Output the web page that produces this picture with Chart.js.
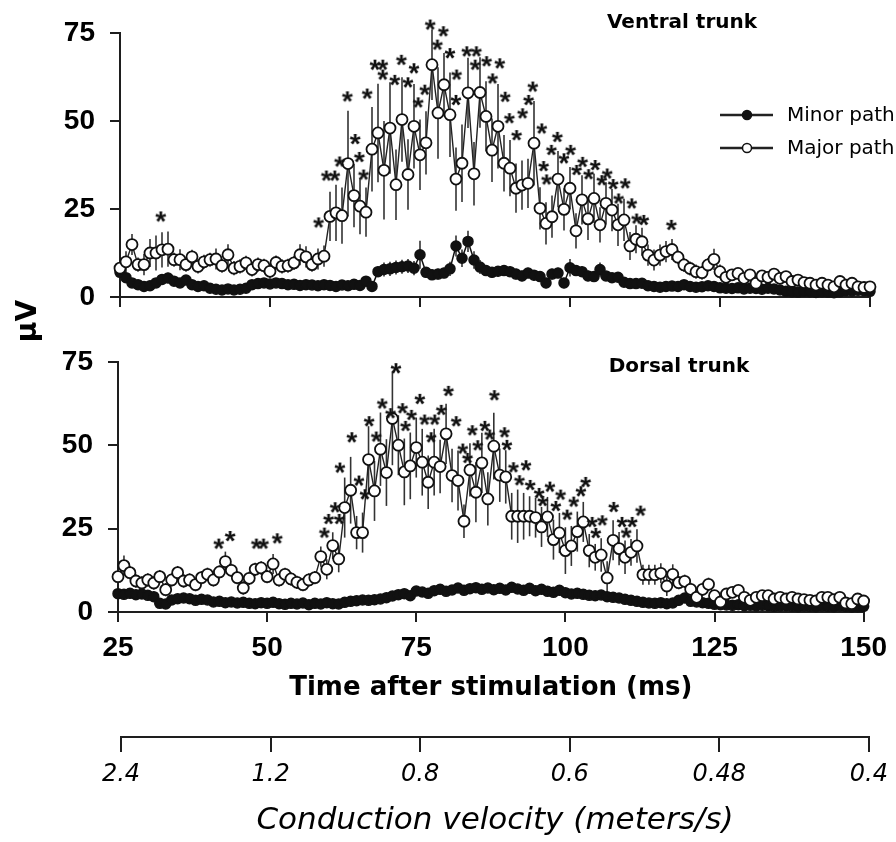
<!DOCTYPE html>
<html>
<head>
<meta charset="utf-8">
<script src="https://cdn.jsdelivr.net/npm/chart.js@4.4.1/dist/chart.umd.min.js"></script>
<style>
  html, body { margin: 0; padding: 0; background: #fff; }
  body { width: 896px; height: 842px; position: relative; overflow: hidden; }
  canvas { position: absolute; left: 0; }
  #chart-ventral { top: 0; }
  #chart-dorsal { top: 330px; }
  #chart-velocity { top: 700px; }
</style>
</head>
<body>
<canvas id="chart-ventral" width="896" height="350"></canvas>
<canvas id="chart-dorsal" width="896" height="390"></canvas>
<canvas id="chart-velocity" width="896" height="142"></canvas>
<script>
// Time after stimulation, one point per ms
const timeMs = [
  25, 26, 27, 28, 29, 30, 31, 32, 33, 34,
  35, 36, 37, 38, 39, 40, 41, 42, 43, 44,
  45, 46, 47, 48, 49, 50, 51, 52, 53, 54,
  55, 56, 57, 58, 59, 60, 61, 62, 63, 64,
  65, 66, 67, 68, 69, 70, 71, 72, 73, 74,
  75, 76, 77, 78, 79, 80, 81, 82, 83, 84,
  85, 86, 87, 88, 89, 90, 91, 92, 93, 94,
  95, 96, 97, 98, 99, 100, 101, 102, 103, 104,
  105, 106, 107, 108, 109, 110, 111, 112, 113, 114,
  115, 116, 117, 118, 119, 120, 121, 122, 123, 124,
  125, 126, 127, 128, 129, 130, 131, 132, 133, 134,
  135, 136, 137, 138, 139, 140, 141, 142, 143, 144,
  145, 146, 147, 148, 149, 150
];

// Ventral trunk
const ventralMajor = [
  8.2, 10, 14.9, 9.2, 9.2, 12.5, 12.5, 13.4, 13.6, 10.6,
  10.6, 9.2, 11.4, 8.7, 10, 10.6, 10.8, 8.9, 12, 8.2,
  8.7, 9.7, 7.8, 9.2, 8.9, 7.3, 9.8, 8.7, 8.9, 9.7,
  12, 11.4, 9.2, 10.8, 11.6, 22.9, 23.9, 23.1, 37.9, 28.8,
  25.8, 24.1, 42, 46.6, 36, 48, 31.9, 50.4, 34.8, 48.5,
  40.4, 43.8, 66, 52.3, 60.3, 51.8, 33.5, 38, 58, 35,
  58.1, 51.3, 41.7, 48.5, 38, 36.6, 30.9, 31.8, 32.3, 43.7,
  25.2, 20.9, 22.8, 33.5, 24.9, 30.9, 18.8, 27.6, 22.2, 28,
  20.5, 26.6, 24.7, 20.5, 21.9, 14.5, 16.4, 15.7, 11.9, 10.5,
  11.9, 12.9, 13.5, 11.3, 9.1, 8.1, 7.2, 6.9, 9.1, 10.7,
  7.2, 5.6, 6.3, 6.7, 5.3, 6.3, 3.9, 6, 5.6, 6.5,
  5.3, 5.8, 4.4, 4.8, 4.1, 3.9, 3.4, 3.9, 3.4, 2.9,
  4.4, 3.4, 3.9, 2.9, 2.7, 2.9
];
const ventralMajorErr = [
  2, 3, 3, 2, 3, 4, 5, 5, 5, 2,
  3, 2, 2, 2, 2, 2, 3, 2, 3, 2,
  2, 2, 2, 2, 2, 2, 2, 2, 2, 2,
  3, 3, 2, 3, 3, 7, 8, 8, 15, 9,
  8, 7, 12, 14, 14, 13, 10, 12, 10, 12,
  10, 9, 10, 13, 9, 12, 9, 11, 10, 9,
  10, 10, 9, 12, 8, 8, 7, 7, 7, 12,
  6, 6, 6, 8, 6, 6, 5, 7, 6, 7,
  5, 6, 6, 6, 6, 4, 4, 4, 3, 3,
  3, 3, 3, 2, 2, 2, 2, 2, 2, 3,
  2, 1.5, 1.5, 1.5, 1.5, 1.5, 1.5, 1.5, 1.5, 1.5,
  1.5, 1.5, 1.5, 1.5, 1.5, 1.5, 1.5, 1.5, 1.5, 1.5,
  1.5, 1.5, 1.5, 1.5, 1.5, 1.5
];
const ventralMinor = [
  7, 5.5, 4, 3.5, 3, 3.2, 4, 5, 5.4, 4.5,
  4, 4.8, 3.5, 3, 3.2, 2.5, 2.2, 2, 2.3, 2,
  2.2, 2.5, 3.5, 3.8, 4, 3.7, 4, 3.8, 3.5, 3.6,
  3.3, 3.5, 3.4, 3.2, 3.5, 3.3, 3, 3.4, 3.2, 3.6,
  3.3, 4.5, 3, 7.2, 7.8, 8, 8.4, 8.6, 8.8, 8.2,
  12, 7, 6.3, 6.5, 6.8, 8, 14.5, 11, 15.8, 10.5,
  8.5, 7.5, 7, 7.3, 7.5, 7.2, 6.5, 6, 6.8, 6.2,
  5.8, 4, 6.5, 6.8, 4, 8.3, 7.5, 7.2, 6, 5.8,
  7.8, 6, 5.5, 5.6, 4.2, 3.8, 3.8, 3.9, 3.2, 3,
  2.8, 3, 3.1, 3, 3.5, 3, 2.8, 2.9, 3.2, 3,
  2.6, 2.5, 2.4, 2.6, 2.3, 2.5, 2.4, 2.2, 2.5, 2.3,
  2, 1.6, 1.5, 1.4, 1.6, 1.5, 1.3, 1.5, 1.4, 1.2,
  1.5, 1.8, 1.7, 1.9, 1.8, 1.6
];
const ventralMinorErr = [
  1.5, 1, 1, 1, 1, 1, 1, 1.5, 1.5, 1,
  1, 1, 1, 1, 1, 1, 1, 1, 1, 1,
  1, 1, 1, 1, 1, 1, 1, 1, 1, 1,
  1, 1, 1, 1, 1, 1, 1, 1, 1, 1,
  1, 1, 1, 1.5, 2, 2, 2, 2, 2, 2,
  4, 1.5, 1.5, 1.5, 1.5, 2, 3, 2.5, 3, 2.5,
  2, 1.5, 1.5, 1.5, 1.5, 1.5, 1.5, 1.5, 1.5, 1.5,
  1.5, 1.5, 1.5, 1.5, 1.5, 2.5, 1.5, 1.5, 1.5, 1.5,
  2, 1, 1, 1, 1, 1, 1, 1, 1, 1,
  1, 1, 1, 1, 1, 1, 1, 1, 1, 1,
  1, 1, 1, 1, 1, 1, 1, 1, 1, 1,
  1, 1, 1, 1, 1, 1, 1, 1, 1, 1,
  1, 1, 1, 1, 1, 1
];
const ventralStarTimes = [
  31.8, 58.1, 59.4, 60.8, 61.6, 62.9, 64.2, 64.9, 65.6, 66.2,
  67.5, 68.8, 68.8, 70.8, 71.9, 73, 74, 74.7, 75.8, 76.7,
  78.9, 77.9, 80, 81.1, 81, 82.8, 84.4, 84.2, 86.1, 87.1,
  88.3, 89.2, 89.9, 91.1, 92.1, 93.1, 93.8, 95.3, 97.9, 96.9,
  100.1, 99, 95.6, 96.1, 101.1, 102.1, 104.2, 103.1, 106.2, 105.3,
  107.2, 109.2, 108.1, 110.3, 111.1, 112.3, 116.9
];
const ventralStarValues = [
  22.9, 21.2, 34.5, 34.5, 38.5, 57, 44.9, 39.8, 34.8, 57.8,
  66, 66, 63.2, 61.7, 67.4, 61, 65, 55.3, 58.9, 77.4,
  75.5, 71.7, 69.3, 63.2, 56, 69.8, 69.8, 66, 67, 62.1,
  66.4, 56.9, 50.8, 46, 52.2, 56, 59.8, 47.9, 45.5, 41.8,
  41.8, 39.4, 37.2, 33.4, 36.1, 38.4, 37.5, 34.9, 35.1, 33.2,
  32.1, 32.3, 28, 26.6, 22.3, 21.9, 20.5
];

// Dorsal trunk
const dorsalMajor = [
  10.6, 13.9, 11.8, 9.3, 8.7, 9.6, 8.7, 10.6, 6.7, 9.6,
  11.8, 9.3, 9.6, 8.2, 10.3, 11.3, 9.6, 12, 15.1, 12.5,
  10.3, 7.2, 10.1, 12.8, 13.2, 10.6, 14.4, 9.6, 11.3, 9.9,
  8.9, 8.2, 9.6, 10.3, 16.6, 12.8, 19.9, 15.9, 31.3, 36.5,
  23.8, 23.8, 45.7, 36.3, 48.8, 41.8, 58, 50, 42, 43.8,
  49.3, 44.9, 38.9, 44.9, 43.6, 53.4, 40.9, 39.4, 27.2, 42.6,
  35.9, 44.7, 33.9, 49.7, 41, 40.5, 28.7, 28.7, 28.7, 28.7,
  28.3, 25.5, 28.5, 21.7, 23.7, 18.4, 19.8, 24.1, 27, 18.4,
  16.4, 17.1, 10.2, 21.5, 19, 16.4, 17.9, 19.8, 11.2, 11.2,
  11.2, 11.6, 7.8, 11.3, 8.8, 9.2, 6.8, 4.4, 6.8, 8.3,
  4.9, 3, 5.4, 5.9, 6.5, 4.4, 3.5, 4.4, 4.9, 4.9,
  3.9, 4.4, 3.9, 4.4, 3.9, 3.7, 3.5, 3.3, 4.4, 4.4,
  3.7, 4.4, 2.7, 2.5, 3.9, 3.3
];
const dorsalMajorErr = [
  2, 3, 2, 2, 2, 2, 2, 2, 2, 2,
  2, 2, 2, 2, 2, 2, 2, 2, 3, 2,
  2, 2, 2, 2, 2, 2, 3, 2, 2, 2,
  2, 2, 2, 2, 3, 3, 4, 4, 9, 10,
  5, 6, 10, 9, 11, 10, 14, 9, 10, 10,
  9, 10, 8, 10, 8, 9, 8, 9, 5, 8,
  9, 9, 8, 10, 8, 8, 7, 8, 7, 6,
  6, 6, 6, 6, 6, 7, 6, 6, 6, 5,
  4, 5, 5, 6, 5, 5, 4, 5, 3, 3,
  3, 3, 3, 3, 2, 2, 2, 2, 2, 2,
  1.5, 1.5, 1.5, 1.5, 1.5, 1.5, 1.5, 1.5, 1.5, 1.5,
  1.5, 1.5, 1.5, 1.5, 1.5, 1.5, 1.5, 1.5, 1.5, 1.5,
  1.5, 1.5, 1.5, 1.5, 1.5, 1.5
];
const dorsalMinor = [
  5.5, 5.3, 5.6, 5.2, 5.4, 5, 4.6, 2.6, 2.4, 3.6,
  4, 4.2, 4, 3.5, 3.8, 3.6, 3, 3.2, 2.8, 3,
  2.7, 2.9, 2.6, 2.5, 2.8, 2.6, 2.9, 2.5, 2.3, 2.6,
  2.4, 2.7, 2.2, 2.6, 2.4, 2.8, 2.5, 2.4, 2.9, 3.2,
  3.4, 3.6, 3.5, 3.7, 3.9, 4.3, 4.8, 5.2, 5.5, 4.9,
  6.3, 6, 5.6, 6.4, 6.8, 6.2, 6.6, 7.2, 6.5, 7,
  7.3, 6.8, 7.2, 6.7, 7.1, 6.6, 7.4, 6.9, 6.5, 7.1,
  6.4, 6.8, 6.2, 5.9, 6.5, 5.8, 5.4, 5.6, 5.3, 5,
  4.9, 5.1, 4.6, 4.4, 4.2, 3.8, 3.5, 3.2, 2.9, 2.7,
  2.6, 2.8, 2.5, 2.7, 3.5, 4.2, 3.2, 3, 2.8, 2.6,
  2.3, 2.2, 2.1, 2, 2.2, 1.9, 2, 1.8, 2, 1.9,
  1.7, 1.8, 1.9, 1.7, 1.6, 1.8, 1.7, 1.6, 1.8, 1.7,
  1.6, 1.8, 1.7, 1.5, 1.6, 1.7
];
const dorsalMinorErr = [
  1.5, 1.5, 1.5, 1.5, 1.5, 1.5, 1.5, 1, 1, 1,
  1, 1, 1, 1, 1, 1, 1, 1, 1, 1,
  1, 1, 1, 1, 1, 1, 1, 1, 1, 1,
  1, 1, 1, 1, 1, 1, 1, 1, 1, 1,
  1, 1, 1, 1, 1, 1, 1, 1, 1, 1,
  1, 1, 1, 1, 1, 1, 1, 1, 1, 1,
  1, 1, 1, 1, 1, 1, 1, 1, 1, 1,
  1, 1, 1, 1, 1, 1, 1, 1, 1, 1,
  1, 1, 1, 1, 1, 1, 1, 1, 1, 1,
  1, 1, 1, 1, 1.5, 1.5, 1, 1, 1, 1,
  1, 1, 1, 1, 1, 1, 1, 1, 1, 1,
  1, 1, 1, 1, 1, 1, 1, 1, 1, 1,
  1, 1, 1, 1, 1, 1
];
const dorsalStarTimes = [
  41.9, 43.8, 48.2, 49.4, 51.7, 59.6, 60.3, 61.4, 62.1, 62.2,
  64.2, 65.4, 66.4, 67.1, 68.3, 69.3, 70.7, 71.6, 72.7, 73.2,
  74.2, 75.6, 76.4, 78.1, 77.5, 79.2, 80.4, 81.7, 82.8, 83.6,
  84.4, 85.3, 86.5, 87.3, 88.1, 89.8, 90.2, 91.3, 93.4, 92.3,
  94.1, 95.6, 96.2, 97.4, 99.2, 98.4, 100.3, 101.4, 102.6, 103.4,
  104.5, 106.2, 105.1, 108.1, 109.5, 111.2, 110.2, 112.6
];
const dorsalStarValues = [
  20.5, 22.8, 20.5, 20.5, 22.1, 23.8, 27.9, 31.4, 27.9, 43.3,
  52.4, 39.4, 35.3, 57.2, 52.6, 62.5, 59.6, 73.1, 61.1, 55.8,
  59.1, 63.9, 57.7, 57.7, 52.4, 60.6, 66.3, 57.2, 49, 46.2,
  54.5, 50, 55.8, 53.2, 65, 53.9, 50.1, 43.4, 44, 39.5,
  38.1, 35.7, 33.3, 37.6, 35.2, 31.8, 29.2, 33.1, 36.2, 39,
  27, 27.5, 23.7, 31.5, 27, 27, 23.8, 30.4
];

// Axis ticks
const timeTicks = [25, 50, 75, 100, 125, 150];
const velocityTicks = ['2.4', '1.2', '0.8', '0.6', '0.48', '0.4'];
const voltTicks = [0, 25, 50, 75];

const axisColor = '#1e1e1e';
const tickFont = { family: '"Liberation Sans", Arial, sans-serif', size: 28, weight: 'bold' };

// Asterisk marker used for the significance points
function makeAsterisk() {
  const c = document.createElement('canvas');
  c.width = 16;
  c.height = 16;
  const g = c.getContext('2d');
  g.fillStyle = '#111';
  g.font = 'bold 28px "Liberation Sans", Arial, sans-serif';
  g.textAlign = 'center';
  g.textBaseline = 'alphabetic';
  const m = g.measureText('*');
  const base = 8 + (m.actualBoundingBoxAscent - m.actualBoundingBoxDescent) / 2;
  g.fillText('*', 8, base);
  return c;
}
const asterisk = makeAsterisk();

// Vertical error bars, drawn under the lines and markers
const errorBars = {
  id: 'errorBars',
  beforeDatasetsDraw(chart) {
    const ctx = chart.ctx;
    const xs = chart.scales.x;
    const ys = chart.scales.y;
    chart.data.datasets.forEach(function(ds) {
      if (!ds.errors) return;
      ctx.save();
      ctx.strokeStyle = '#333';
      ctx.lineWidth = 1.6;
      ds.data.forEach(function(v, i) {
        const x = xs.getPixelForValue(chart.data.labels[i]);
        ctx.beginPath();
        ctx.moveTo(x, ys.getPixelForValue(v + ds.errors[i]));
        ctx.lineTo(x, ys.getPixelForValue(Math.max(0, v - ds.errors[i])));
        ctx.stroke();
      });
      ctx.restore();
    });
  }
};

function textPlugin(items) {
  return {
    id: 'panelText',
    afterDraw(chart) {
      const ctx = chart.ctx;
      items.forEach(function(it) {
        ctx.save();
        ctx.font = it.font;
        ctx.fillStyle = '#000';
        ctx.textAlign = 'center';
        ctx.textBaseline = 'middle';
        ctx.translate(it.x, it.y);
        if (it.rotate) ctx.rotate(it.rotate);
        ctx.fillText(it.text, 0, 0);
        ctx.restore();
      });
    }
  };
}

// Legend drawn inside the top panel, at the right edge
const pathLegend = {
  id: 'pathLegend',
  afterDraw(chart) {
    const ctx = chart.ctx;
    const rows = chart.data.datasets.filter(function(ds) { return ds.legendRow !== undefined; })
      .sort(function(a, b) { return a.legendRow - b.legendRow; });
    rows.forEach(function(ds, i) {
      const y = 115 + i * 33;
      ctx.save();
      ctx.strokeStyle = '#222';
      ctx.lineWidth = 2.5;
      ctx.beginPath();
      ctx.moveTo(720, y);
      ctx.lineTo(773, y);
      ctx.stroke();
      ctx.beginPath();
      ctx.arc(747, y, 4.5, 0, Math.PI * 2);
      ctx.fillStyle = ds.pointBackgroundColor;
      ctx.fill();
      ctx.lineWidth = 1.5;
      ctx.strokeStyle = '#111';
      ctx.stroke();
      ctx.fillStyle = '#000';
      ctx.font = '20px "DejaVu Sans", sans-serif';
      ctx.textAlign = 'left';
      ctx.textBaseline = 'middle';
      ctx.fillText(ds.label, 787, y + 1);
      ctx.restore();
    });
  }
};

function buildPanel(canvasId, major, majorErr, minor, minorErr, starTimes, starValues, box, plugins) {
  const stars = starTimes.map(function(t, i) { return { x: t, y: starValues[i] }; });
  return new Chart(document.getElementById(canvasId), {
    type: 'line',
    data: {
      labels: timeMs,
      datasets: [
        {
          type: 'scatter',
          label: 'P < 0.05',
          data: stars,
          pointStyle: asterisk,
          pointRadius: 10,
          showLine: false,
          clip: false
        },
        {
          label: 'Major path',
          data: major,
          errors: majorErr,
          borderColor: '#222',
          borderWidth: 1.4,
          pointRadius: 5.5,
          pointBackgroundColor: '#ffffff',
          pointBorderColor: '#111',
          pointBorderWidth: 1.8,
          tension: 0,
          clip: false,
          legendRow: 1
        },
        {
          label: 'Minor path',
          data: minor,
          errors: minorErr,
          borderColor: '#111',
          borderWidth: 1.5,
          pointRadius: 5,
          pointBackgroundColor: '#111',
          pointBorderColor: '#111',
          pointBorderWidth: 1.5,
          tension: 0,
          clip: false,
          legendRow: 0
        }
      ]
    },
    options: {
      responsive: false,
      animation: false,
      events: [],
      layout: { padding: { top: box.top, right: box.right, left: 0, bottom: 0 } },
      plugins: { legend: { display: false }, tooltip: { enabled: false } },
      scales: {
        x: {
          type: 'linear',
          min: 25,
          max: 150,
          afterBuildTicks: function(s) { s.ticks = timeTicks.map(function(v) { return { value: v }; }); },
          afterFit: function(s) { s.height = box.xHeight; },
          border: { display: true, color: axisColor, width: 2 },
          grid: { drawOnChartArea: false, drawTicks: true, tickLength: 10, color: axisColor, lineWidth: 2 },
          ticks: { display: box.showLabels, font: tickFont, color: '#000', padding: 9, maxRotation: 0, autoSkip: false },
          title: box.title ? {
            display: true,
            text: box.title,
            color: '#000',
            font: { family: '"DejaVu Sans", sans-serif', size: 26, weight: 'bold' },
            padding: { top: 0, bottom: 16 }
          } : { display: false }
        },
        y: {
          min: 0,
          max: 75,
          afterBuildTicks: function(s) { s.ticks = voltTicks.map(function(v) { return { value: v }; }); },
          afterFit: function(s) { s.width = box.left; },
          border: { display: true, color: axisColor, width: 2 },
          grid: { drawOnChartArea: false, drawTicks: true, tickLength: 10, color: axisColor, lineWidth: 2 },
          ticks: { font: tickFont, color: '#000', padding: 15 }
        }
      }
    },
    plugins: [errorBars].concat(plugins)
  });
}

buildPanel('chart-ventral', ventralMajor, ventralMajorErr, ventralMinor, ventralMinorErr,
  ventralStarTimes, ventralStarValues,
  { top: 33, right: 26, left: 120, xHeight: 53, showLabels: false },
  [pathLegend, textPlugin([
    { text: 'Ventral trunk', x: 682, y: 23, font: 'bold 20px "DejaVu Sans", sans-serif' },
    { text: 'μV', x: 29, y: 321, rotate: -Math.PI / 2, font: 'bold 28px "DejaVu Sans", sans-serif' }
  ])]);

buildPanel('chart-dorsal', dorsalMajor, dorsalMajorErr, dorsalMinor, dorsalMinorErr,
  dorsalStarTimes, dorsalStarValues,
  { top: 22, right: 28, left: 118, xHeight: 108, showLabels: true, title: 'Time after stimulation (ms)' },
  [textPlugin([
    { text: 'Dorsal trunk', x: 679, y: 37, font: 'bold 20px "DejaVu Sans", sans-serif' }
  ])]);

// Conduction velocity axis, aligned with the time axis above
new Chart(document.getElementById('chart-velocity'), {
  type: 'scatter',
  data: { datasets: [] },
  options: {
    responsive: false,
    animation: false,
    events: [],
    layout: { padding: { top: 0, right: 27, left: 121, bottom: 0 } },
    plugins: { legend: { display: false }, tooltip: { enabled: false } },
    scales: {
      x: {
        type: 'linear',
        min: 25,
        max: 150,
        afterBuildTicks: function(s) { s.ticks = timeTicks.map(function(v) { return { value: v }; }); },
        afterFit: function(s) { s.height = 105; },
        border: { display: true, color: axisColor, width: 2 },
        grid: { drawOnChartArea: false, drawTicks: true, tickLength: 15, color: axisColor, lineWidth: 2 },
        ticks: {
          font: { family: '"DejaVu Sans", sans-serif', size: 24, style: 'italic' },
          color: '#000',
          padding: 8,
          maxRotation: 0,
          autoSkip: false,
          callback: function(value) { return velocityTicks[timeTicks.indexOf(value)]; }
        },
        title: {
          display: true,
          text: 'Conduction velocity (meters/s)',
          color: '#000',
          font: { family: '"DejaVu Sans", sans-serif', size: 31, style: 'italic' },
          padding: { top: 0, bottom: 2 }
        }
      },
      y: { display: false, min: 0, max: 1 }
    }
  }
});
</script>
</body>
</html>
